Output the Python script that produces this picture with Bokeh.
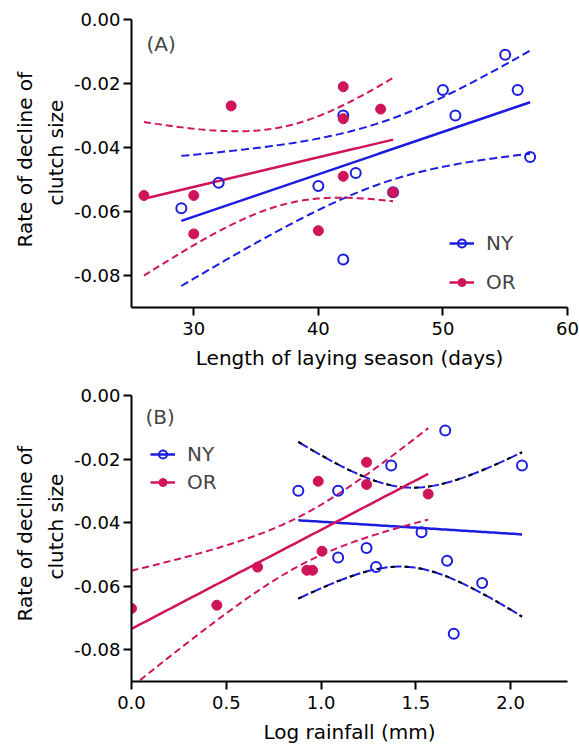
import numpy as np
from bokeh.plotting import figure
from bokeh.models import FixedTicker, Range1d, Legend, LegendItem, Label, Title
from bokeh.layouts import column
from bokeh.embed import file_html
from bokeh.resources import INLINE

# ---------------- data ----------------
# Panel A: length of laying season (days)
a_ny_x = [29, 32, 40, 42, 42, 43, 46, 50, 51, 55, 56, 57]
a_ny_y = [-0.059, -0.051, -0.052, -0.030, -0.075, -0.048, -0.054, -0.022, -0.030, -0.011, -0.022, -0.043]
a_or_x = [26, 30, 30, 33, 40, 42, 42, 42, 45, 46]
a_or_y = [-0.055, -0.055, -0.067, -0.027, -0.066, -0.021, -0.031, -0.049, -0.028, -0.054]

# Panel B: log rainfall (mm)
b_ny_x = [0.88, 1.09, 1.37, 1.655, 2.06, 1.53, 1.24, 1.09, 1.29, 1.665, 1.85, 1.70]
b_ny_y = [-0.030, -0.030, -0.022, -0.011, -0.022, -0.043, -0.048, -0.051, -0.054, -0.052, -0.059, -0.075]
b_or_x = [0.00, 0.45, 0.665, 0.925, 0.955, 1.005, 0.985, 1.24, 1.24, 1.565]
b_or_y = [-0.067, -0.066, -0.054, -0.055, -0.055, -0.049, -0.027, -0.021, -0.028, -0.031]

y_ticks = [0.0, -0.02, -0.04, -0.06, -0.08]
y_tick_labels = ["0.00", "-0.02", "-0.04", "-0.06", "-0.08"]
a_x_ticks = [30, 40, 50, 60]
a_x_tick_labels = ["30", "40", "50", "60"]
b_x_ticks = [0.0, 0.5, 1.0, 1.5, 2.0]
b_x_tick_labels = ["0.0", "0.5", "1.0", "1.5", "2.0"]
y_label_lines = ["Rate of decline of", "clutch size"]

BLUE = "#1c1ce0"
RED = "#d0145a"
FONT = "DejaVu Sans"
T95 = {8: 2.306, 10: 2.228}


def fit(x, y):
    x = np.asarray(x, float)
    y = np.asarray(y, float)
    n = len(x)
    b, a = np.polyfit(x, y, 1)
    xs = np.linspace(x.min(), x.max(), 80)
    yhat = a + b * xs
    resid = y - (a + b * x)
    s = np.sqrt(np.sum(resid ** 2) / (n - 2))
    sxx = np.sum((x - x.mean()) ** 2)
    se = s * np.sqrt(1.0 / n + (xs - x.mean()) ** 2 / sxx)
    t = T95[n - 2]
    return xs, yhat, yhat - t * se, yhat + t * se


def make_fig(height, top, bottom, left, right, xr, xticks, xlabels, xlabel, offsets):
    p = figure(width=579, height=height, output_backend="svg", toolbar_location=None,
               x_range=Range1d(*xr), y_range=Range1d(-0.09, 0.0))
    p.min_border_top = top
    p.min_border_bottom = bottom
    p.min_border_left = left
    p.min_border_right = right
    p.outline_line_color = None
    p.grid.visible = False
    p.background_fill_color = "white"
    for ax in (p.xaxis[0], p.yaxis[0]):
        ax.axis_line_width = 2
        ax.axis_line_color = "black"
        ax.major_tick_line_width = 2
        ax.major_tick_line_color = "black"
        ax.minor_tick_line_color = None
        ax.major_tick_in = 0
        ax.major_tick_out = 8
        ax.major_label_text_font = FONT
        ax.major_label_text_font_size = "18px"
        ax.major_label_text_color = "black"
        ax.axis_label_text_font = FONT
        ax.axis_label_text_font_size = "20px"
        ax.axis_label_text_font_style = "normal"
        ax.axis_label_text_color = "black"
    p.xaxis.ticker = FixedTicker(ticks=xticks)
    p.xaxis.major_label_overrides = dict(zip(xticks, xlabels))
    p.xaxis.axis_label = xlabel
    p.xaxis.major_label_standoff = 6
    p.xaxis.axis_label_standoff = 8
    p.yaxis.ticker = FixedTicker(ticks=y_ticks)
    p.yaxis.major_label_overrides = dict(zip(y_ticks, y_tick_labels))
    p.yaxis.major_label_standoff = 3
    # two-line y label (nearest line added first)
    for line, standoff, off in zip(reversed(y_label_lines), (6, 4), offsets):
        p.add_layout(Title(text=line, align="left", text_font=FONT,
                           text_font_size="20px", text_font_style="normal",
                           text_color="black", standoff=standoff, offset=off), "left")
    return p


def add_series(p, ny_x, ny_y, or_x, or_y, composite_ny_ci):
    xs, yh, lo, hi = fit(ny_x, ny_y)
    if composite_ny_ci:
        for band in (lo, hi):
            p.line(xs, band, line_color=BLUE, line_width=2, line_dash="11 3")
            p.line(xs, band, line_color="black", line_width=2, line_dash="4 10")
    else:
        for band in (lo, hi):
            p.line(xs, band, line_color=BLUE, line_width=2, line_dash="8 4")
    ny_line = p.line(xs, yh, line_color=BLUE, line_width=2.5)

    xs, yh, lo, hi = fit(or_x, or_y)
    for band in (lo, hi):
        p.line(xs, band, line_color=RED, line_width=2, line_dash="7 4")
    or_line = p.line(xs, yh, line_color=RED, line_width=2.5)

    ny_pts = p.scatter(ny_x, ny_y, marker="circle", size=10, fill_color=None,
                       line_color=BLUE, line_width=2)
    or_pts = p.scatter(or_x, or_y, marker="circle", size=10, fill_color=RED,
                       line_color=RED, line_width=1)
    return [ny_line, ny_pts], [or_line, or_pts]


def add_legend(p, ny, orr, loc, spacing):
    leg = Legend(items=[LegendItem(label="NY", renderers=ny),
                        LegendItem(label="OR", renderers=orr)],
                 location=loc, padding=0, margin=0, spacing=spacing,
                 glyph_width=25, glyph_height=20, label_height=20,
                 label_standoff=12, label_text_font=FONT,
                 label_text_font_size="20px", background_fill_alpha=0,
                 border_line_color=None)
    p.add_layout(leg)


pa = make_fig(372, 19, 64, 130, 12, (25, 60), a_x_ticks, a_x_tick_labels,
              "Length of laying season (days)", (102, 60))
ny, orr = add_series(pa, a_ny_x, a_ny_y, a_or_x, a_or_y, False)
add_legend(pa, ny, orr, (318, 13), 15)
pa.add_layout(Label(x=26.2, y=-0.0075, text="(A)", text_font=FONT, text_font_size="20px",
                    text_baseline="middle", text_align="left"))

pb = make_fig(374, 23, 61, 131, 11, (0, 2.3), b_x_ticks, b_x_tick_labels,
              "Log rainfall (mm)", (102, 60))
ny, orr = add_series(pb, b_ny_x, b_ny_y, b_or_x, b_or_y, True)
add_legend(pb, ny, orr, (19, 187), 4)
pb.add_layout(Label(x=0.074, y=-0.0067, text="(B)", text_font=FONT, text_font_size="20px",
                    text_baseline="middle", text_align="left"))

layout = column(pa, pb, spacing=0)
open("out.html", "w").write(file_html(layout, INLINE))
